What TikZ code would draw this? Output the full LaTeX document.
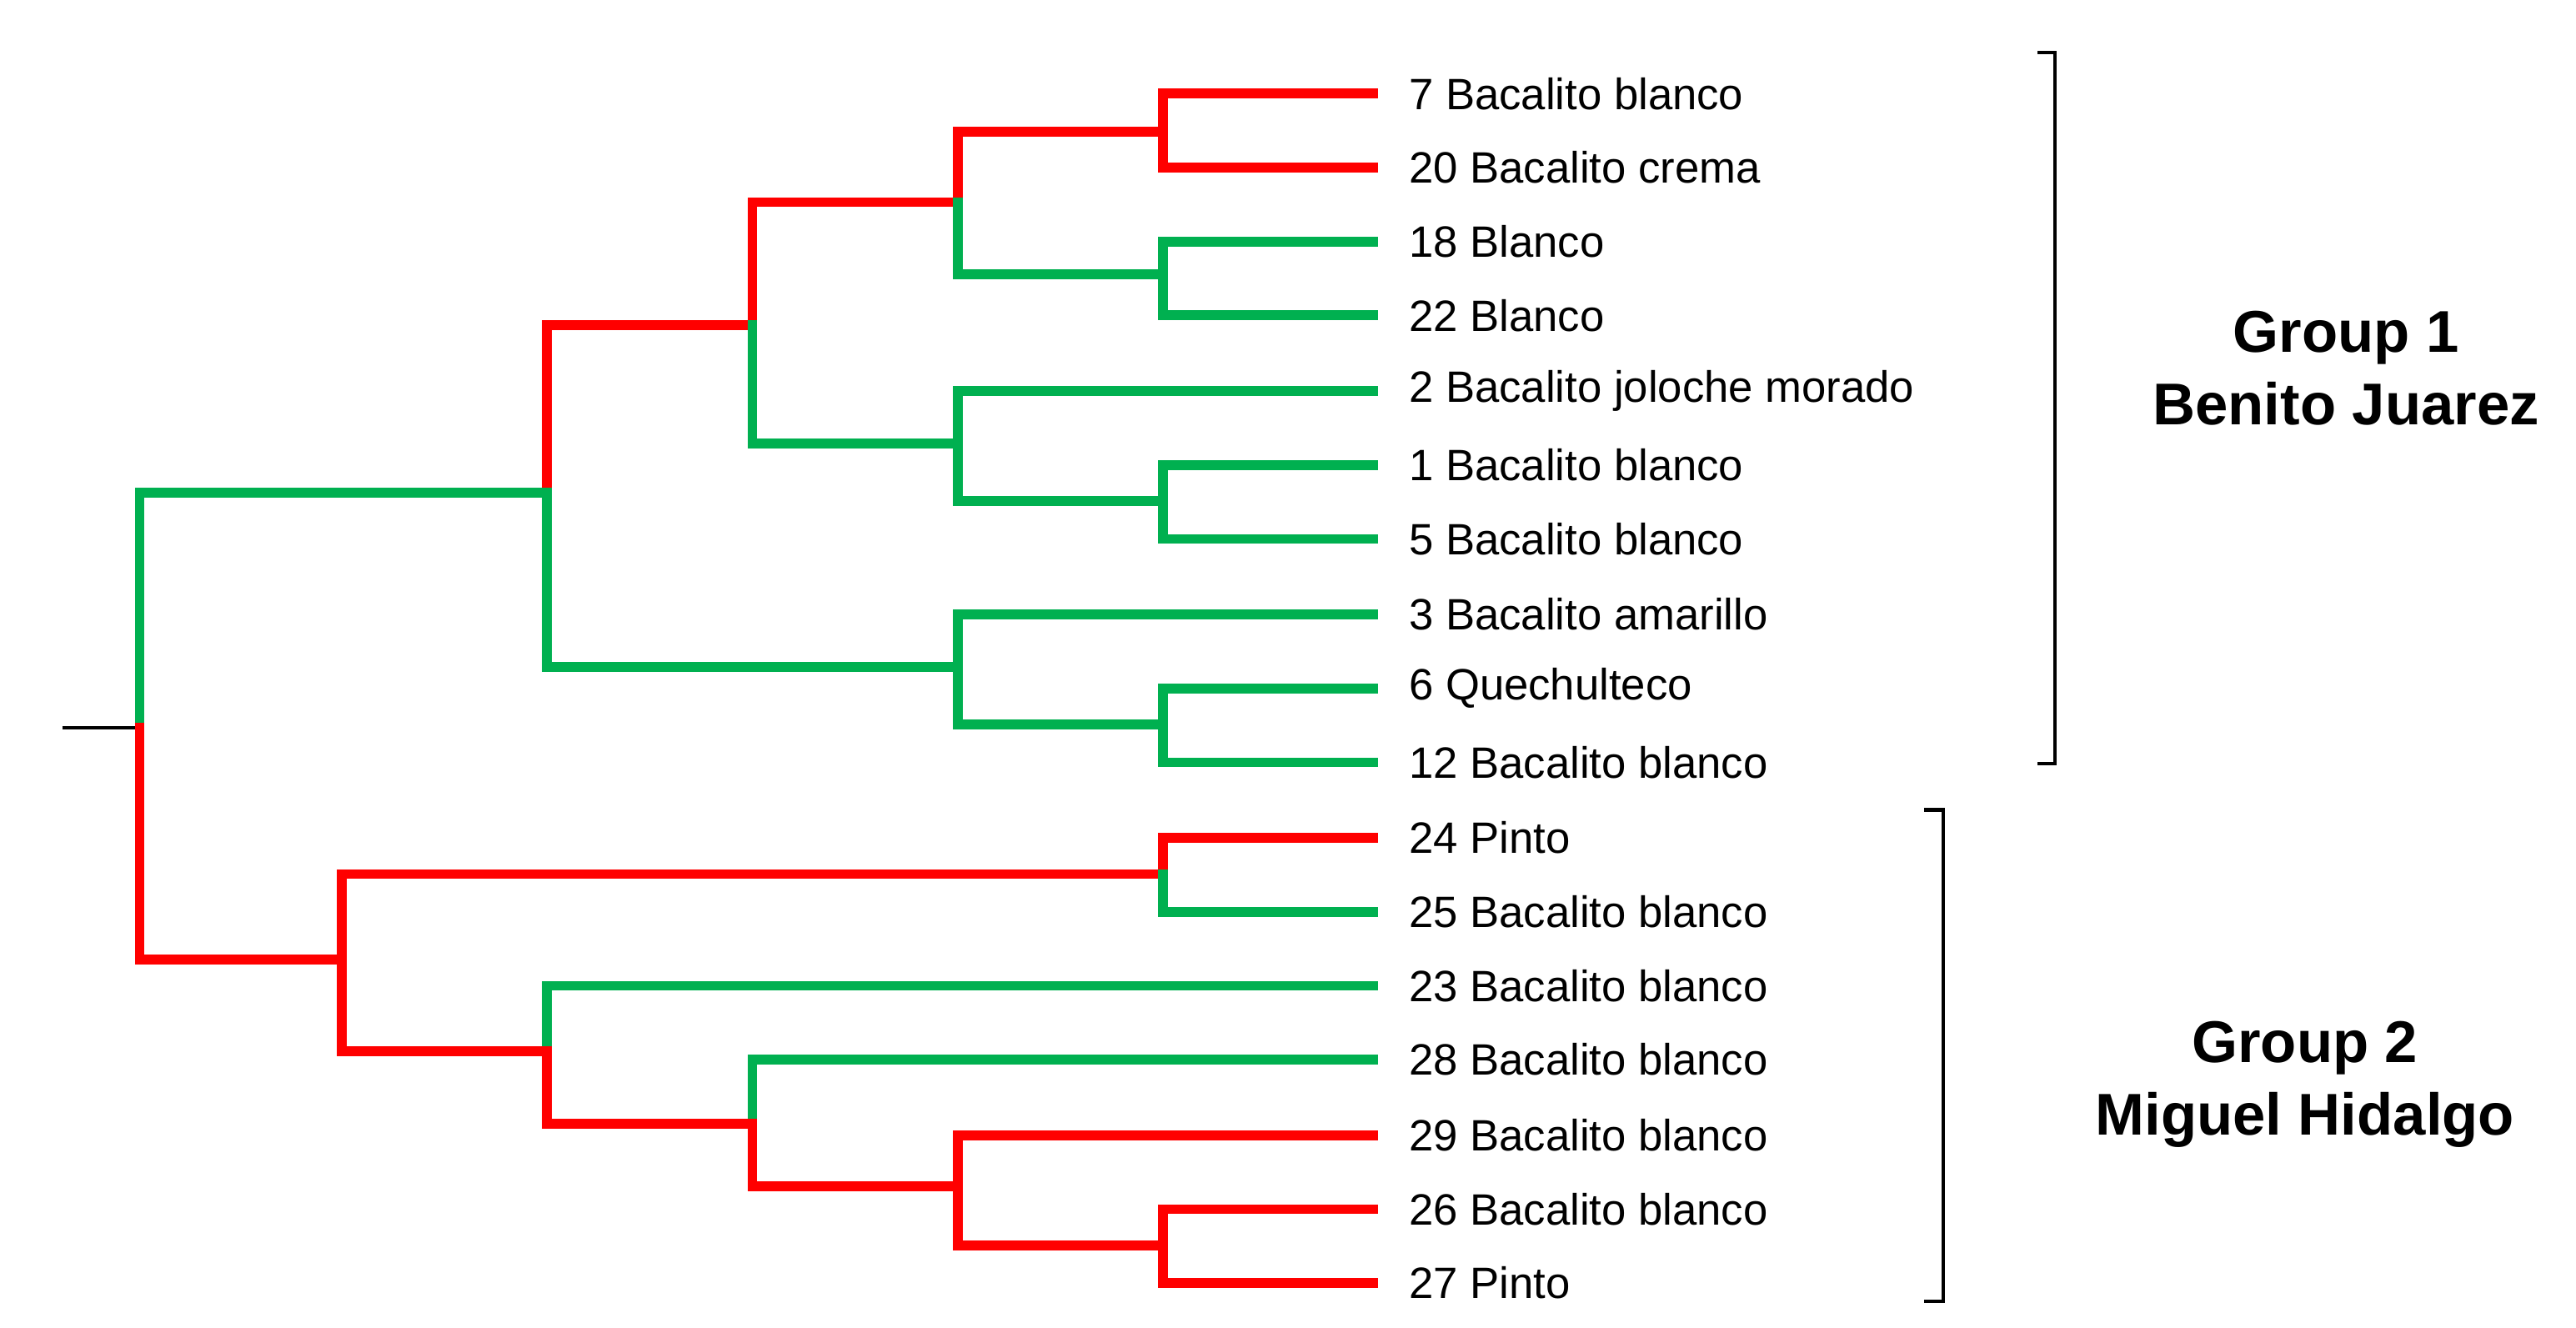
\documentclass[tikz,border=0pt]{standalone}
\usepackage{fontspec}
\setmainfont{Liberation Sans}
\begin{document}
\begin{tikzpicture}[x=0.01cm,y=-0.01cm,line cap=rect,
  r/.style={draw=red,line width=1.7pt},
  g/.style={draw={rgb,255:red,0;green,176;blue,80},line width=1.7pt},
  lab/.style={anchor=west,font=\fontsize{7.6}{8.5}\selectfont,inner sep=0pt},
  grp/.style={font=\fontsize{10.2}{12.5}\selectfont\bfseries,align=center}]
\useasboundingbox (0,0) rectangle (1568,808);
\foreach \y/\t in {57/7 Bacalito blanco,102/20 Bacalito crema,147/18 Blanco,192/22 Blanco,238/2 Bacalito joloche morado,283/1 Bacalito blanco,328/5 Bacalito blanco,374/3 Bacalito amarillo,419/6 Quechulteco,464/12 Bacalito blanco,510/24 Pinto,555/25 Bacalito blanco,600/23 Bacalito blanco,645/28 Bacalito blanco,691/29 Bacalito blanco,736/26 Bacalito blanco,781/27 Pinto}
  \node[lab] at (857,\y) {\t};
\draw[black,line width=0.6pt,line cap=butt] (38,443)--(85,443);
% root
\draw[g] (85,443)--(85,300)--(333,300);
\draw[r] (85,443)--(85,584)--(208,584);
% top clade
\draw[r] (333,300)--(333,198)--(458,198);
\draw[g] (333,300)--(333,406)--(583,406);
\draw[r] (458,198)--(458,123)--(583,123);
\draw[g] (458,198)--(458,270)--(583,270);
\draw[r] (583,123)--(583,80)--(708,80);
\draw[g] (583,123)--(583,167)--(708,167);
\draw[r] (708,80)--(708,57)--(836,57);
\draw[r] (708,80)--(708,102)--(836,102);
\draw[g] (708,167)--(708,147)--(836,147);
\draw[g] (708,167)--(708,192)--(836,192);
\draw[g] (583,270)--(583,238)--(836,238);
\draw[g] (583,270)--(583,305)--(708,305);
\draw[g] (708,305)--(708,283)--(836,283);
\draw[g] (708,305)--(708,328)--(836,328);
\draw[g] (583,406)--(583,374)--(836,374);
\draw[g] (583,406)--(583,441)--(708,441);
\draw[g] (708,441)--(708,419)--(836,419);
\draw[g] (708,441)--(708,464)--(836,464);
% bottom clade
\draw[r] (208,584)--(208,532)--(708,532);
\draw[r] (208,584)--(208,640)--(333,640);
\draw[r] (708,532)--(708,510)--(836,510);
\draw[g] (708,532)--(708,555)--(836,555);
\draw[g] (333,640)--(333,600)--(836,600);
\draw[r] (333,640)--(333,684)--(458,684);
\draw[g] (458,684)--(458,645)--(836,645);
\draw[r] (458,684)--(458,722)--(583,722);
\draw[r] (583,722)--(583,691)--(836,691);
\draw[r] (583,722)--(583,758)--(708,758);
\draw[r] (708,758)--(708,736)--(836,736);
\draw[r] (708,758)--(708,781)--(836,781);
% brackets
\draw[black,line width=0.6pt] (1241,32)--(1251,32)--(1251,465)--(1241,465);
\draw[black,line width=0.6pt] (1172,493)--(1183,493)--(1183,792)--(1172,792);
\node[grp] (g1) at (1428,224) {Group 1\\Benito Juarez};
\node[grp] (g2) at (1403,660) {Group 2\\Miguel Hidalgo};
\end{tikzpicture}
\end{document}
